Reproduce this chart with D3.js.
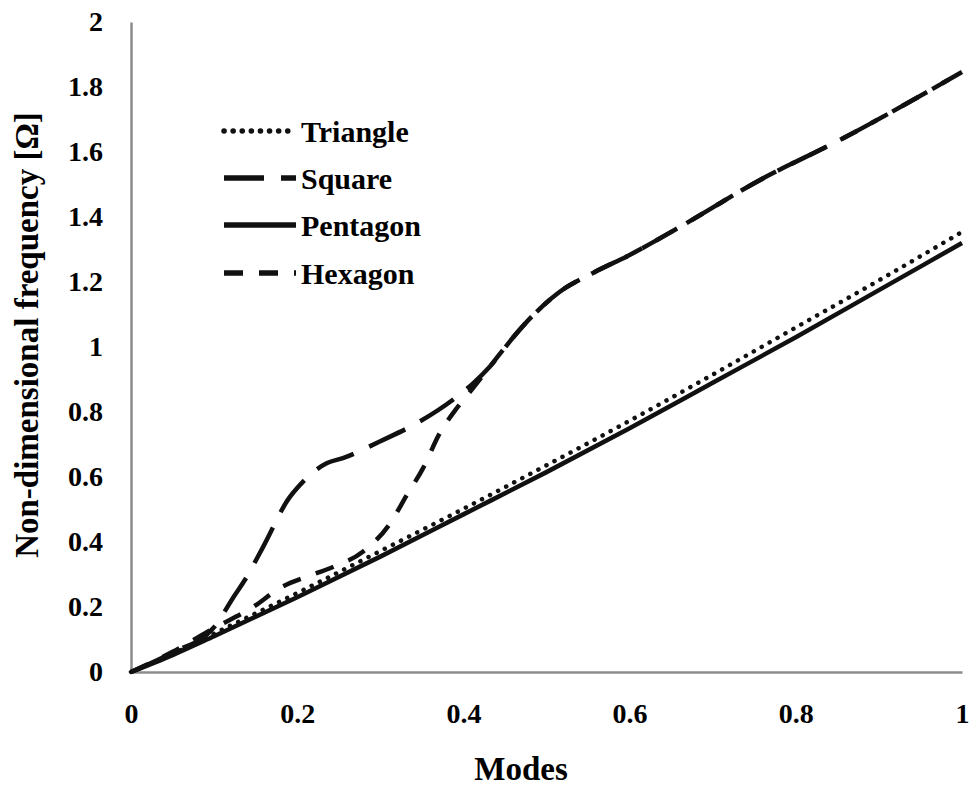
<!DOCTYPE html>
<html>
<head>
<meta charset="utf-8">
<script src="https://cdn.jsdelivr.net/npm/d3@7"></script>
<style>
html,body{margin:0;padding:0;background:#fff;}
html body svg#chart text, html body svg#chart tspan{font-family:"Liberation Serif" !important;}
</style>
</head>
<body>
<svg id="chart" width="969" height="786"></svg>
<script>
const xTicks = [0, 0.2, 0.4, 0.6, 0.8, 1];
const yTicks = [0, 0.2, 0.4, 0.6, 0.8, 1, 1.2, 1.4, 1.6, 1.8, 2];
const seriesNames = ["Triangle", "Square", "Pentagon", "Hexagon"];
const xTitle = "Modes";
const yTitle = "Non-dimensional frequency [\u03A9]";

const triangleX = [0, 0.05, 0.1, 0.2, 0.3, 0.4, 0.5, 0.6, 0.7, 0.8, 0.9, 1.0];
const triangleY = [0, 0.055, 0.118, 0.243, 0.372, 0.502, 0.636, 0.773, 0.915, 1.06, 1.205, 1.354];

const pentagonX = [0, 0.05, 0.1, 0.2, 0.3, 0.4, 0.5, 0.6, 0.7, 0.8, 0.9, 1.0];
const pentagonY = [0, 0.052, 0.11, 0.23, 0.355, 0.485, 0.615, 0.75, 0.89, 1.03, 1.175, 1.32];

const squareX = [0, 0.05, 0.1, 0.125, 0.137, 0.159, 0.191, 0.2, 0.236, 0.255, 0.3, 0.342, 0.387, 0.412, 0.432, 0.46, 0.484, 0.516, 0.556, 0.6, 0.661, 0.757, 0.853, 1.0];
const squareY = [0, 0.06, 0.138, 0.237, 0.283, 0.385, 0.538, 0.566, 0.643, 0.658, 0.71, 0.763, 0.837, 0.889, 0.94, 1.03, 1.098, 1.17, 1.228, 1.283, 1.37, 1.514, 1.637, 1.846];

const hexagonX = [0, 0.05, 0.1, 0.147, 0.179, 0.219, 0.243, 0.279, 0.312, 0.332, 0.351, 0.372, 0.39, 0.412, 0.432, 0.46, 0.484, 0.516, 0.556, 0.6, 0.661, 0.757, 0.853, 1.0];
const hexagonY = [0, 0.062, 0.135, 0.2, 0.258, 0.3, 0.323, 0.37, 0.458, 0.545, 0.625, 0.737, 0.805, 0.875, 0.94, 1.03, 1.098, 1.17, 1.228, 1.283, 1.37, 1.514, 1.637, 1.846];

const FONT = "Liberation Serif";
const svg = d3.select("#chart");
const mLeft = 131, mRight = 962, mTop = 22, mBottom = 672;
const x = d3.scaleLinear().domain([0, 1]).range([mLeft, mRight]);
const y = d3.scaleLinear().domain([0, 2]).range([mBottom, mTop]);

const tickSize = 28, legendSize = 30, titleSize = 33;

function styleText(sel, size) {
  sel.attr("font-family", FONT).attr("font-size", size)
     .attr("font-weight", "bold").attr("fill", "#000");
}

// axes
const gx = svg.append("g").attr("transform", `translate(0,${mBottom})`)
  .call(d3.axisBottom(x).tickValues(xTicks).tickSize(0).tickPadding(31).tickFormat(d => d3.format("")(d)));
const gy = svg.append("g").attr("transform", `translate(${mLeft},0)`)
  .call(d3.axisLeft(y).tickValues(yTicks).tickSize(0).tickPadding(28).tickFormat(d => d3.format("")(d)));
[gx, gy].forEach(g => {
  g.attr("font-family", FONT).attr("font-size", tickSize);
  g.select(".domain").attr("stroke", "#8c8c8c").attr("stroke-width", 2.5);
  styleText(g.selectAll("text"), tickSize);
});

// axis titles
styleText(svg.append("text").attr("x", 521).attr("y", 780)
  .attr("text-anchor", "middle").text(xTitle), titleSize);
styleText(svg.append("text").attr("transform", `translate(38,335) rotate(-90)`)
  .attr("text-anchor", "middle").text(yTitle), titleSize);

const styles = {
  Triangle: {dash: "0.1 9", width: 4.5, cap: "round"},
  Square:   {dash: "40 17", width: 4.5, cap: "butt"},
  Pentagon: {dash: null, width: 4.5, cap: "butt"},
  Hexagon:  {dash: "19 16", width: 4.5, cap: "butt"}
};
const data = {
  Triangle: triangleX.map((v, i) => [v, triangleY[i]]),
  Square: squareX.map((v, i) => [v, squareY[i]]),
  Pentagon: pentagonX.map((v, i) => [v, pentagonY[i]]),
  Hexagon: hexagonX.map((v, i) => [v, hexagonY[i]])
};

const line = d3.line().x(d => x(d[0])).y(d => y(d[1])).curve(d3.curveMonotoneX);
["Pentagon", "Triangle", "Hexagon", "Square"].forEach(name => {
  const s = styles[name];
  svg.append("path").datum(data[name]).attr("d", line)
    .attr("fill", "none").attr("stroke", "#111").attr("stroke-width", s.width)
    .attr("stroke-linecap", s.cap).attr("stroke-linejoin", "round")
    .attr("stroke-dasharray", s.dash);
});

// legend
const legendY = [131, 178, 225, 273];
seriesNames.forEach((name, i) => {
  const s = styles[name];
  const ly = legendY[i];
  svg.append("line").attr("x1", 224).attr("x2", 296).attr("y1", ly).attr("y2", ly)
    .attr("stroke", "#111").attr("stroke-width", 5.5).attr("stroke-linecap", s.cap)
    .attr("stroke-dasharray", s.dash);
  styleText(svg.append("text").attr("x", 301).attr("y", ly).attr("dy", "0.35em").text(name), legendSize);
});
</script>
</body>
</html>
